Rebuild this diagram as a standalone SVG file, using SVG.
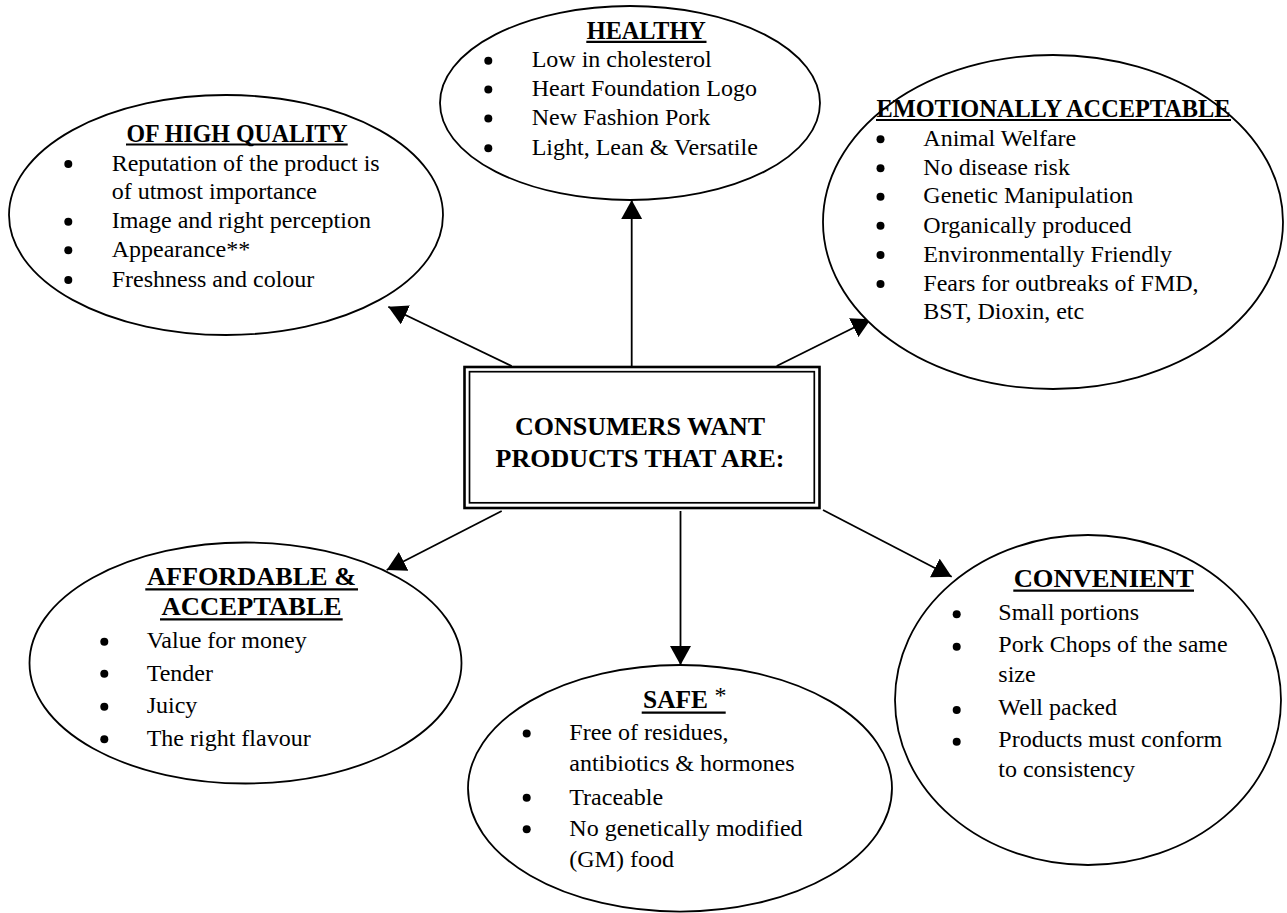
<svg xmlns="http://www.w3.org/2000/svg" width="1287" height="913" viewBox="0 0 1287 913">
  <style>
    .bubble { fill: #ffffff; stroke: #000000; stroke-width: 1.8; }
    .title { font-family: "Liberation Serif", "Times New Roman", serif; font-size: 25px; font-weight: bold; fill: #000000; text-anchor: middle; }
    .item { font-family: "Liberation Serif", "Times New Roman", serif; font-size: 24px; fill: #000000; }
    .rule { stroke: #000000; stroke-width: 2.2; }
    .dot { fill: #000000; }
    .link { stroke: #000000; stroke-width: 1.8; fill: none; marker-end: url(#head); }
    .hub { font-family: "Liberation Serif", "Times New Roman", serif; font-size: 26px; font-weight: bold; fill: #000000; text-anchor: middle; }
  </style>
  <defs>
    <marker id="head" viewBox="0 0 19 21" refX="19" refY="10.5" markerWidth="19" markerHeight="21" markerUnits="userSpaceOnUse" orient="auto">
      <path d="M0,0 L19,10.5 L0,21 Z" fill="#000000"/>
    </marker>
  </defs>
  <rect width="1287" height="913" fill="#ffffff"/>

  <!-- connectors from the central box to each bubble -->
  <g id="connectors">
    <line class="link" x1="511.7" y1="366" x2="388.3" y2="306.7"/>
    <line class="link" x1="631.7" y1="366" x2="631.7" y2="200"/>
    <line class="link" x1="776.7" y1="366" x2="870.7" y2="319.3"/>
    <line class="link" x1="501.7" y1="511" x2="386.7" y2="570"/>
    <line class="link" x1="680.5" y1="511" x2="680.5" y2="665"/>
    <line class="link" x1="823" y1="510" x2="951.7" y2="576.7"/>
  </g>

  <!-- central box with double border -->
  <g id="consumers-want">
    <rect x="464.5" y="367" width="355" height="141" fill="#ffffff" stroke="#000000" stroke-width="2.6"/>
    <rect x="469.5" y="371.7" width="344.8" height="131.1" fill="none" stroke="#000000" stroke-width="1.7"/>
    <text class="hub" x="640" y="435">CONSUMERS WANT</text>
    <text class="hub" x="640" y="467">PRODUCTS THAT ARE:</text>
  </g>

  <g id="high-quality">
    <ellipse class="bubble" cx="226" cy="215" rx="217" ry="120"/>
    <text class="title" x="237" y="141.7" textLength="221" lengthAdjust="spacingAndGlyphs">OF HIGH QUALITY</text>
    <line class="rule" x1="126" y1="144.5" x2="347.7" y2="144.5"/>
    <circle class="dot" cx="68.3" cy="164" r="4"/>
    <circle class="dot" cx="68.3" cy="221.7" r="4"/>
    <circle class="dot" cx="68.3" cy="250.3" r="4"/>
    <circle class="dot" cx="68.3" cy="280" r="4"/>
    <text class="item" x="111.7" y="170.8">Reputation of the product is</text>
    <text class="item" x="111.7" y="199.3">of utmost importance</text>
    <text class="item" x="111.7" y="228">Image and right perception</text>
    <text class="item" x="111.7" y="256.8">Appearance**</text>
    <text class="item" x="111.7" y="286.5">Freshness and colour</text>
  </g>

  <g id="healthy">
    <ellipse class="bubble" cx="630" cy="103" rx="190" ry="97"/>
    <text class="title" x="646.3" y="39" textLength="119" lengthAdjust="spacingAndGlyphs">HEALTHY</text>
    <line class="rule" x1="586.3" y1="41.8" x2="706.5" y2="41.8"/>
    <circle class="dot" cx="488.3" cy="60.7" r="4"/>
    <circle class="dot" cx="488.3" cy="89.5" r="4"/>
    <circle class="dot" cx="488.3" cy="118.5" r="4"/>
    <circle class="dot" cx="488.3" cy="148.3" r="4"/>
    <text class="item" x="531.7" y="67">Low in cholesterol</text>
    <text class="item" x="531.7" y="96.2">Heart Foundation Logo</text>
    <text class="item" x="531.7" y="125.3">New Fashion Pork</text>
    <text class="item" x="531.7" y="155">Light, Lean &amp; Versatile</text>
  </g>

  <g id="emotionally-acceptable">
    <ellipse class="bubble" cx="1053" cy="222" rx="230" ry="167"/>
    <text class="title" x="1053.5" y="116.7" textLength="354" lengthAdjust="spacingAndGlyphs">EMOTIONALLY ACCEPTABLE</text>
    <line class="rule" x1="876" y1="120" x2="1231" y2="120"/>
    <circle class="dot" cx="880.5" cy="139.3" r="4"/>
    <circle class="dot" cx="880.5" cy="168.3" r="4"/>
    <circle class="dot" cx="880.5" cy="196.7" r="4"/>
    <circle class="dot" cx="880.5" cy="225.7" r="4"/>
    <circle class="dot" cx="880.5" cy="255" r="4"/>
    <circle class="dot" cx="880.5" cy="284" r="4"/>
    <text class="item" x="923.3" y="146">Animal Welfare</text>
    <text class="item" x="923.3" y="175">No disease risk</text>
    <text class="item" x="923.3" y="203.3">Genetic Manipulation</text>
    <text class="item" x="923.3" y="232.5">Organically produced</text>
    <text class="item" x="923.3" y="261.6">Environmentally Friendly</text>
    <text class="item" x="923.3" y="290.6">Fears for outbreaks of FMD,</text>
    <text class="item" x="923.3" y="319.4">BST, Dioxin, etc</text>
  </g>

  <g id="affordable-acceptable">
    <ellipse class="bubble" cx="245.5" cy="663" rx="216" ry="120.5"/>
    <text class="title" x="251.5" y="585" textLength="209" lengthAdjust="spacingAndGlyphs">AFFORDABLE &amp;</text>
    <line class="rule" x1="145.3" y1="589.3" x2="358" y2="589.3"/>
    <text class="title" x="251.5" y="615" textLength="180" lengthAdjust="spacingAndGlyphs">ACCEPTABLE</text>
    <line class="rule" x1="160" y1="619.3" x2="342.7" y2="619.3"/>
    <circle class="dot" cx="104.3" cy="641.7" r="4"/>
    <circle class="dot" cx="104.3" cy="673.7" r="4"/>
    <circle class="dot" cx="104.3" cy="706.7" r="4"/>
    <circle class="dot" cx="104.3" cy="739.3" r="4"/>
    <text class="item" x="146.7" y="648.3">Value for money</text>
    <text class="item" x="146.7" y="680.7">Tender</text>
    <text class="item" x="146.7" y="713.3">Juicy</text>
    <text class="item" x="146.7" y="746">The right flavour</text>
  </g>

  <g id="safe">
    <ellipse class="bubble" cx="680" cy="788.3" rx="212" ry="123.3"/>
    <text class="title" x="675.5" y="708.3" textLength="65" lengthAdjust="spacingAndGlyphs">SAFE</text>
    <text class="item" x="720.5" y="703" font-size="18" text-anchor="middle">*</text>
    <line class="rule" x1="641.7" y1="712.7" x2="725.7" y2="712.7"/>
    <circle class="dot" cx="526.7" cy="733.5" r="4"/>
    <circle class="dot" cx="526.7" cy="797.7" r="4"/>
    <circle class="dot" cx="526.7" cy="829.3" r="4"/>
    <text class="item" x="569.3" y="740.2">Free of residues,</text>
    <text class="item" x="569.3" y="770.7">antibiotics &amp; hormones</text>
    <text class="item" x="569.3" y="804.5">Traceable</text>
    <text class="item" x="569.3" y="835.5">No genetically modified</text>
    <text class="item" x="569.3" y="866.7">(GM) food</text>
  </g>

  <g id="convenient">
    <ellipse class="bubble" cx="1088" cy="700" rx="193" ry="165"/>
    <text class="title" x="1103.7" y="586.7" textLength="180" lengthAdjust="spacingAndGlyphs">CONVENIENT</text>
    <line class="rule" x1="1013.3" y1="590.7" x2="1194" y2="590.7"/>
    <circle class="dot" cx="956.7" cy="614.3" r="4"/>
    <circle class="dot" cx="956.7" cy="646.7" r="4"/>
    <circle class="dot" cx="956.7" cy="710" r="4"/>
    <circle class="dot" cx="956.7" cy="741.7" r="4"/>
    <text class="item" x="998.3" y="620">Small portions</text>
    <text class="item" x="998.3" y="652">Pork Chops of the same</text>
    <text class="item" x="998.3" y="682">size</text>
    <text class="item" x="998.3" y="715">Well packed</text>
    <text class="item" x="998.3" y="747">Products must conform</text>
    <text class="item" x="998.3" y="777">to consistency</text>
  </g>
</svg>
